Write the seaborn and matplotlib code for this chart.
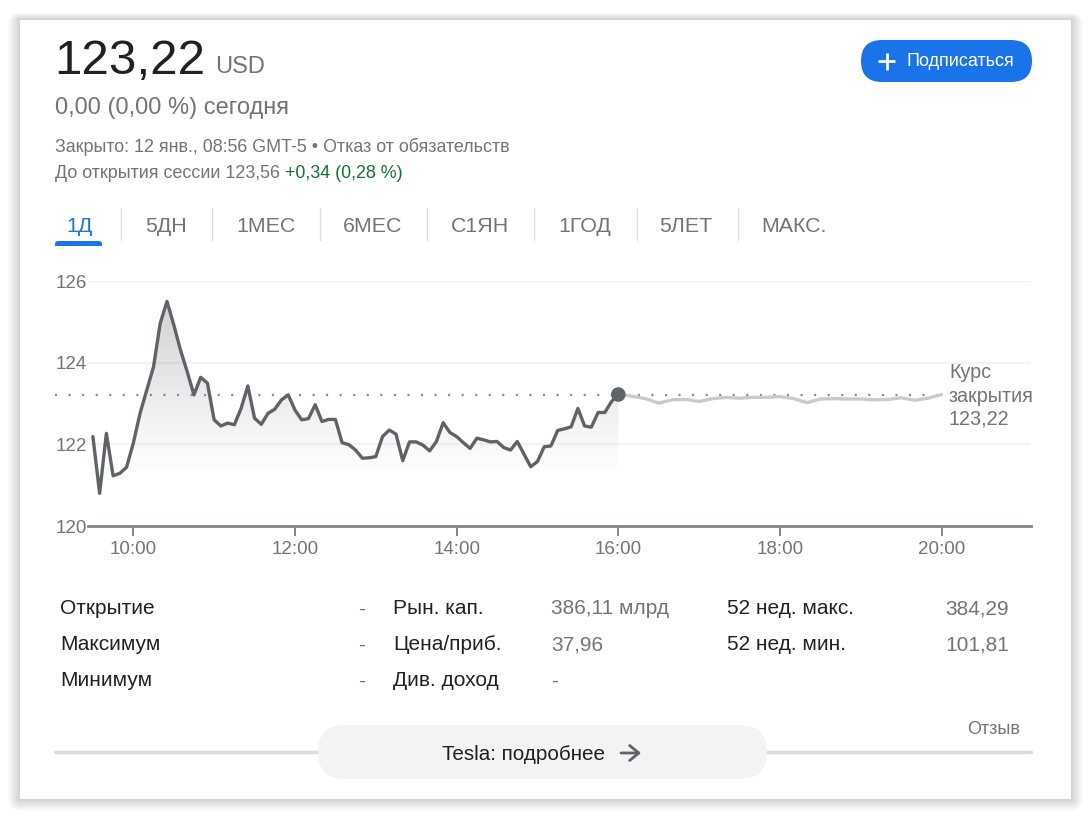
import numpy as np
import pandas as pd
import matplotlib
matplotlib.use("Agg")
import matplotlib.pyplot as plt
import matplotlib.dates as mdates
from matplotlib.patches import FancyBboxPatch
import seaborn as sns

# ---------------- data ----------------
session_prices = [
    122.19, 120.80, 122.27, 121.23, 121.29, 121.44, 122.03, 122.76, 123.33, 123.90,
    124.97, 125.50, 124.93, 124.31, 123.78, 123.21, 123.64, 123.50, 122.60, 122.45,
    122.52, 122.48, 122.88, 123.43, 122.64, 122.49, 122.76, 122.86, 123.09, 123.21,
    122.84, 122.60, 122.63, 122.97, 122.56, 122.61, 122.61, 122.04, 121.99, 121.86,
    121.66, 121.67, 121.70, 122.19, 122.35, 122.25, 121.60, 122.06, 122.06, 121.98,
    121.84, 122.07, 122.53, 122.29, 122.19, 122.04, 121.90, 122.15, 122.11, 122.06,
    122.07, 121.92, 121.86, 122.07, 121.76, 121.45, 121.58, 121.94, 121.96, 122.34,
    122.38, 122.43, 122.88, 122.45, 122.42, 122.78, 122.78, 123.05, 123.22,
]
after_hours_prices = [
    123.22, 123.18, 123.12, 123.01, 123.09, 123.10, 123.05, 123.12, 123.15, 123.13,
    123.15, 123.15, 123.17, 123.12, 123.02, 123.11, 123.12, 123.11, 123.11, 123.09,
    123.10, 123.14, 123.08, 123.13, 123.22,
]
prev_close = 123.22
y_ticks = [120, 122, 124, 126]
x_tick_hours = [10, 12, 14, 16, 18, 20]

tabs = ["1Д", "5ДН", "1МЕС", "6МЕС", "С1ЯН", "1ГОД", "5ЛЕТ", "МАКС."]
stat_labels_1 = ["Открытие", "Максимум", "Минимум"]
stat_values_1 = ["-", "-", "-"]
stat_labels_2 = ["Рын. кап.", "Цена/приб.", "Див. доход"]
stat_values_2 = ["386,11 млрд", "37,96", "-"]
stat_labels_3 = ["52 нед. макс.", "52 нед. мин."]
stat_values_3 = ["384,29", "101,81"]

day = pd.Timestamp("2023-01-11")
session_df = pd.DataFrame({
    "time": pd.date_range(day + pd.Timedelta(hours=9.5), periods=len(session_prices), freq="5min"),
    "price": session_prices,
})
after_df = pd.DataFrame({
    "time": pd.date_range(day + pd.Timedelta(hours=16), periods=len(after_hours_prices), freq="10min"),
    "price": after_hours_prices,
})

# ---------------- style ----------------
sns.set_theme(style="white")
plt.rcParams["font.family"] = ["Liberation Sans", "DejaVu Sans"]

GRAY = "#70757a"
DARK = "#202124"

W, H = 1091, 819
fig = plt.figure(figsize=(W / 100, H / 100), dpi=100, facecolor="white")

bg = fig.add_axes([0, 0, 1, 1])
bg.set_xlim(0, W)
bg.set_ylim(H, 0)
bg.axis("off")

# card shadow + card
for i in range(1, 16):
    bg.add_patch(FancyBboxPatch((20 - i * 0.8, 20 - i * 0.5), 1051 + i * 1.6, 779 + i * 1.3,
                                boxstyle="round,pad=0,rounding_size=%f" % (i * 0.8),
                                facecolor="black", edgecolor="none", alpha=0.012, zorder=0))
bg.add_patch(FancyBboxPatch((20, 20), 1051, 779, boxstyle="square,pad=0",
                            facecolor="white", edgecolor="none", zorder=1))

# header text
bg.text(54, 74, "123,22", fontsize=35.5, color=DARK, va="baseline", zorder=2)
bg.text(215, 73, "USD", fontsize=17, color=GRAY, va="baseline", zorder=2)
bg.text(55, 114, "0,00 (0,00 %) сегодня", fontsize=17, color=GRAY, va="baseline", zorder=2)
bg.text(55, 152, "Закрыто: 12 янв., 08:56 GMT-5 • Отказ от обязательств", fontsize=12.9,
        color=GRAY, va="baseline", zorder=2)
t1 = bg.text(55, 178, "До открытия сессии 123,56 ", fontsize=12.9, color=GRAY, va="baseline", zorder=2)
fig.canvas.draw()
bb = t1.get_window_extent(renderer=fig.canvas.get_renderer())
bg.text(bb.x1, 178, "+0,34 (0,28 %)", fontsize=12.9, color="#137333", va="baseline", zorder=2)

# subscribe button
bg.add_patch(FancyBboxPatch((861, 40), 171, 42, boxstyle="round,pad=0,rounding_size=21",
                            facecolor="#1a73e8", edgecolor="none", zorder=2))
bg.plot([878, 895], [61, 61], color="white", lw=2, solid_capstyle="butt", zorder=3)
bg.plot([886.5, 886.5], [52.5, 69.5], color="white", lw=2, solid_capstyle="butt", zorder=3)
bg.text(907, 62, "Подписаться", fontsize=13, color="white", va="center", ha="left", zorder=3)

# tabs
tab_centers = [79, 166, 266, 373, 480, 585, 686, 794]
for i, (lab, cx) in enumerate(zip(tabs, tab_centers)):
    bg.text(cx, 226, lab, fontsize=15.4, color="#1a73e8" if i == 0 else GRAY,
            ha="center", va="center", zorder=2)
for sx in [121, 212, 320, 427, 534, 637, 738]:
    bg.plot([sx, sx], [208, 240], color="#dadce0", lw=1, zorder=2)
bg.add_patch(FancyBboxPatch((55, 241), 47, 8, boxstyle="round,pad=0,rounding_size=3",
                            facecolor="#1a73e8", edgecolor="none", zorder=2))
bg.add_patch(FancyBboxPatch((54, 246), 49, 6, boxstyle="square,pad=0",
                            facecolor="white", edgecolor="none", zorder=2))

# closing price annotation
for yy, s in zip([373, 396, 419], ["Курс", "закрытия", "123,22"]):
    bg.text(949, yy, s, fontsize=14.2, color=GRAY, va="center", zorder=2)

# stats table
FS = 15
rows_y = [609, 645, 681]
for yy, lab, val in zip(rows_y, stat_labels_1, stat_values_1):
    bg.text(60, yy, lab, fontsize=FS, color=DARK, va="center", zorder=2)
    bg.text(358, yy, val, fontsize=FS, color=GRAY, va="center", zorder=2)
for yy, lab, val in zip(rows_y, stat_labels_2, stat_values_2):
    bg.text(393, yy, lab, fontsize=FS, color=DARK, va="center", zorder=2)
    bg.text(551, yy, val, fontsize=FS, color=GRAY, va="center", zorder=2)
for yy, lab, val in zip(rows_y, stat_labels_3, stat_values_3):
    bg.text(727, yy, lab, fontsize=FS, color=DARK, va="center", zorder=2)
    bg.text(945, yy, val, fontsize=FS, color=GRAY, va="center", zorder=2)

# footer
bg.text(1020, 730, "Отзыв", fontsize=13, color=GRAY, ha="right", va="center", zorder=2)
bg.plot([55, 1031], [752, 752], color="#dadce0", lw=2.5, zorder=2)
bg.add_patch(FancyBboxPatch((318, 725), 449, 54, boxstyle="round,pad=0,rounding_size=27",
                            facecolor="#f1f3f4", edgecolor="none", zorder=3))
bg.text(605, 754, "Tesla: подробнее", fontsize=14.9, color=DARK, ha="right", va="center", zorder=4)
bg.annotate("", xy=(641, 753), xytext=(621, 753), zorder=4,
            arrowprops=dict(arrowstyle="->,head_length=0.55,head_width=0.45", lw=2,
                            color="#5f6368", shrinkA=0, shrinkB=0))

# ---------------- chart ----------------
ax = fig.add_axes([88 / W, 1 - 526 / H, (1031 - 88) / W, (526 - 281) / H])
ax.patch.set_alpha(0)
ax.set_zorder(5)

x_left = mdates.date2num(day + pd.Timedelta(hours=9.5 - 4.9 / 80.83))
x_right = mdates.date2num(day + pd.Timedelta(hours=9.5 + 938.1 / 80.83))

# gradient fill under the regular-session line
poly = ax.fill_between(session_df["time"], session_df["price"], 120, color="none", lw=0)
g_y = np.linspace(120, 126, 300)
alpha = np.clip((g_y - 121.2) / (125.6 - 121.2), 0, 1) ** 1.1 * 0.30
grad = np.zeros((300, 1, 4))
grad[..., 0] = 0.37
grad[..., 1] = 0.39
grad[..., 2] = 0.41
grad[..., 3] = alpha[:, None]
im = ax.imshow(grad, extent=[mdates.date2num(session_df["time"].iloc[0]),
                             mdates.date2num(session_df["time"].iloc[-1]), 120, 126],
               origin="lower", aspect="auto", zorder=1, interpolation="bilinear")
im.set_clip_path(poly.get_paths()[0], transform=ax.transData)

sns.lineplot(data=after_df, x="time", y="price", ax=ax, color="#cacaca", lw=2.4, zorder=3)
sns.lineplot(data=session_df, x="time", y="price", ax=ax, color="#5f6368", lw=2.4, zorder=4)
sns.scatterplot(data=session_df.iloc[[-1]], x="time", y="price", ax=ax, color="#5f6368",
                s=110, edgecolor="none", zorder=6)

ax.axhline(prev_close, xmin=(55 - 88) / 943, xmax=(946 - 88) / 943, clip_on=False,
           color="#80868b", lw=1.6, ls=(0, (0.9, 5.2)), zorder=2)

ax.set_xlim(x_left, x_right)
ax.set_ylim(120, 126)
ax.set_yticks(y_ticks)
ax.set_yticklabels([str(v) for v in y_ticks])
ax.set_xticks([mdates.date2num(day + pd.Timedelta(hours=h)) for h in x_tick_hours])
ax.set_xticklabels(["%d:00" % h for h in x_tick_hours])
ax.set_xlabel("")
ax.set_ylabel("")
ax.grid(axis="y", color="#f1f3f4", lw=1.6)
ax.grid(axis="x", visible=False)
ax.set_axisbelow(True)
for s in ["top", "right", "left"]:
    ax.spines[s].set_visible(False)
ax.spines["bottom"].set_color("#80868b")
ax.spines["bottom"].set_linewidth(2)
ax.tick_params(axis="y", length=0, labelsize=13.5, labelcolor=GRAY, pad=1)
ax.tick_params(axis="x", direction="out", length=7.5, width=1.4, color="#80868b",
               labelsize=13.5, labelcolor=GRAY, pad=3.5, bottom=True)

fig.savefig("out.png", dpi=100, facecolor="white")
